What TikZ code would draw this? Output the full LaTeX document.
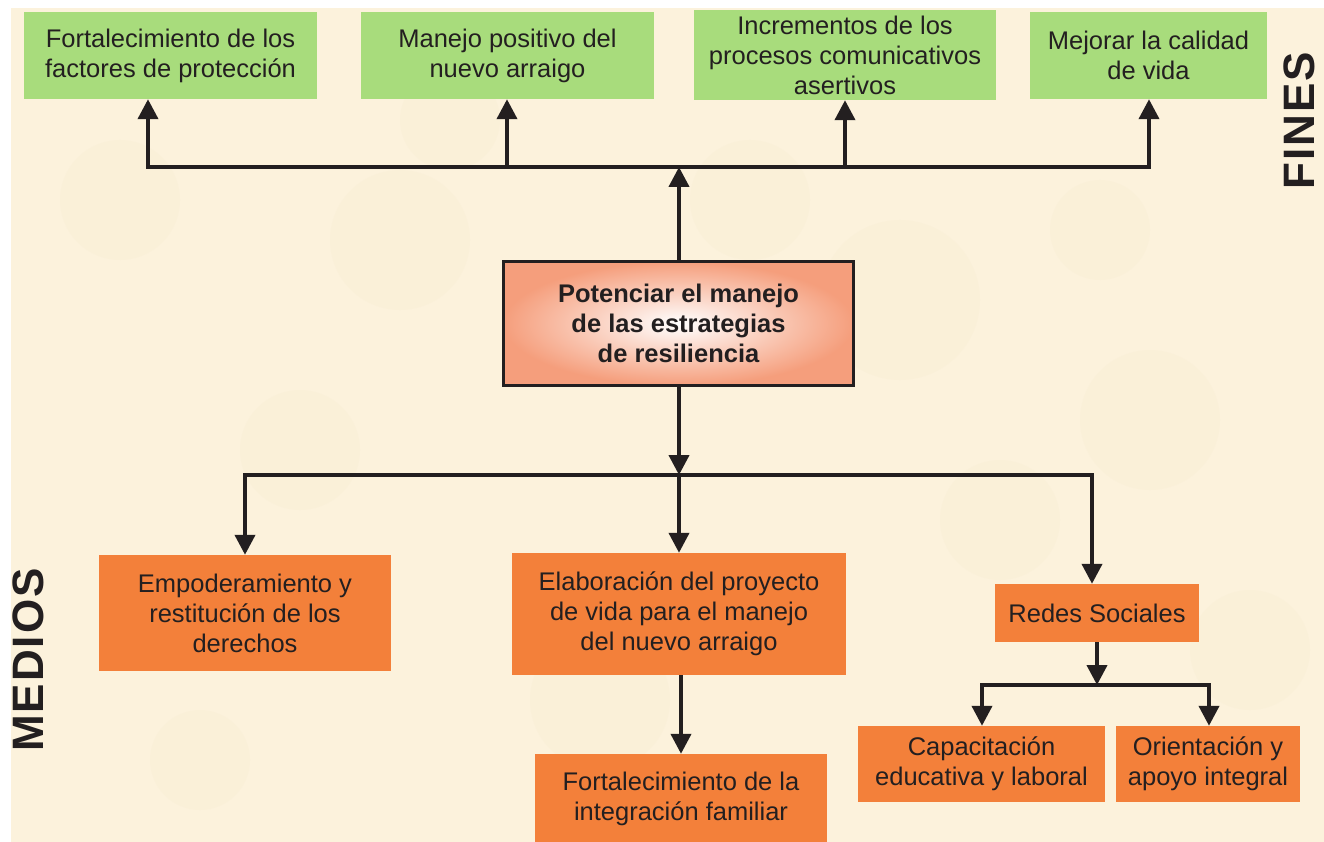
\documentclass[tikz,border=0pt]{standalone}
\usepackage{fontspec}
\setmainfont{Liberation Sans}
\usetikzlibrary{arrows.meta}
\definecolor{cream}{RGB}{252,242,220}
\definecolor{creamdark}{RGB}{246,234,205}
\definecolor{fgreen}{RGB}{168,220,124}
\definecolor{forange}{RGB}{243,128,58}
\definecolor{salmon}{RGB}{245,158,124}
\definecolor{ink}{RGB}{35,31,32}
\tikzset{
  box/.style={inner sep=2pt, align=center, text=ink, font=\fontsize{25.5}{30}\selectfont},
  gbox/.style={box, fill=fgreen},
  obox/.style={box, fill=forange},
  cbox/.style={box, draw=ink, line width=3pt, shading=radial, inner color=white, outer color=salmon,
     font=\fontsize{25.5}{30}\selectfont\bfseries},
  con/.style={draw=ink, line width=4pt},
  arr/.style={con, -{Triangle[width=20pt,length=20pt]}},
  side/.style={text=ink, inner sep=0pt, anchor=base, font=\fontsize{44}{44}\selectfont\bfseries\addfontfeature{LetterSpace=4.5}}
}
\begin{document}
\begin{tikzpicture}[x=1pt,y=-1pt]
\useasboundingbox (0,0) rectangle (1324,842);
\fill[white] (0,0) rectangle (1324,842);
\fill[cream] (11,8) rectangle (1324,842);
% faint texture
\foreach \x/\y/\r in {120/200/60,400/240/70,900/300/80,1150/420/70,300/450/60,600/700/70,1000/520/60,200/760/50,1250/650/60,750/200/60,450/120/50,1100/230/50}
  \fill[creamdark, opacity=0.22] (\x,\y) circle [radius=\r];
% top boxes
\node[gbox, minimum width=293pt, minimum height=87pt] (f1) at (170.5,55.5) {Fortalecimiento de los\\factores de protección};
\node[gbox, minimum width=293pt, minimum height=87pt] (f2) at (507.5,55.5) {Manejo positivo del\\nuevo arraigo};
\node[gbox, minimum width=302pt, minimum height=90pt] (f3) at (845,55) {Incrementos de los\\procesos comunicativos\\asertivos};
\node[gbox, minimum width=237pt, minimum height=87pt] (f4) at (1148.5,55.5) {Mejorar la calidad\\de vida};
% central
\node[cbox, minimum width=350pt, minimum height=124pt] (c) at (678.5,323.5) {Potenciar el manejo\\de las estrategias\\de resiliencia};
% bottom boxes
\node[obox, minimum width=292pt, minimum height=116pt] (m1) at (245,613) {Empoderamiento y\\restitución de los\\derechos};
\node[obox, minimum width=334pt, minimum height=122pt] (m2) at (679,614) {Elaboración del proyecto\\de vida para el manejo\\del nuevo arraigo};
\node[obox, minimum width=292pt, minimum height=90pt] (m3) at (681,799) {Fortalecimiento de la\\integración familiar};
\node[obox, minimum width=204pt, minimum height=58pt] (m4) at (1097,613) {Redes Sociales};
\node[obox, minimum width=247pt, minimum height=76pt] (m5) at (981.5,764) {Capacitación\\educativa y laboral};
\node[obox, minimum width=184pt, minimum height=76pt] (m6) at (1208,764) {Orientación y\\apoyo integral};
% side labels
\node[side, rotate=90] (fines) at (1314,121) {FINES};
\node[side, rotate=90] (medios) at (43,660) {MEDIOS};
% top connectors
\coordinate (tb) at (679,167);
\coordinate (tl) at (148,167);
\coordinate (tr) at (1149,167);
\draw[arr] (c.north -| tb) -- (tb);
\draw[con, line cap=rect] (tl) -- (tr);
\draw[arr] (tl) -- (tl |- f1.south);
\draw[arr] (507,167) coordinate (t2) -- (t2 |- f2.south);
\draw[arr] (845,167) coordinate (t3) -- (t3 |- f3.south);
\draw[arr] (tr) -- (tr |- f4.south);
% bottom connectors
\coordinate (bb) at (679,475);
\coordinate (bl) at (245,475);
\coordinate (br) at (1092,475);
\draw[arr] (c.south -| bb) -- (bb);
\draw[con, line cap=rect] (bl) -- (br);
\draw[arr] (bl) -- (bl |- m1.north);
\draw[arr] (bb) -- (bb |- m2.north);
\draw[arr] (br) -- (br |- m4.north);
\draw[arr] (m2.south -| m3) -- (m3.north);
% redes connectors
\coordinate (rb) at (1097,685);
\coordinate (rl) at (982,685);
\coordinate (rr) at (1209,685);
\draw[arr] (m4.south -| rb) -- (rb);
\draw[con, line cap=rect] (rl) -- (rr);
\draw[arr] (rl) -- (rl |- m5.north);
\draw[arr] (rr) -- (rr |- m6.north);
\end{tikzpicture}
\end{document}
